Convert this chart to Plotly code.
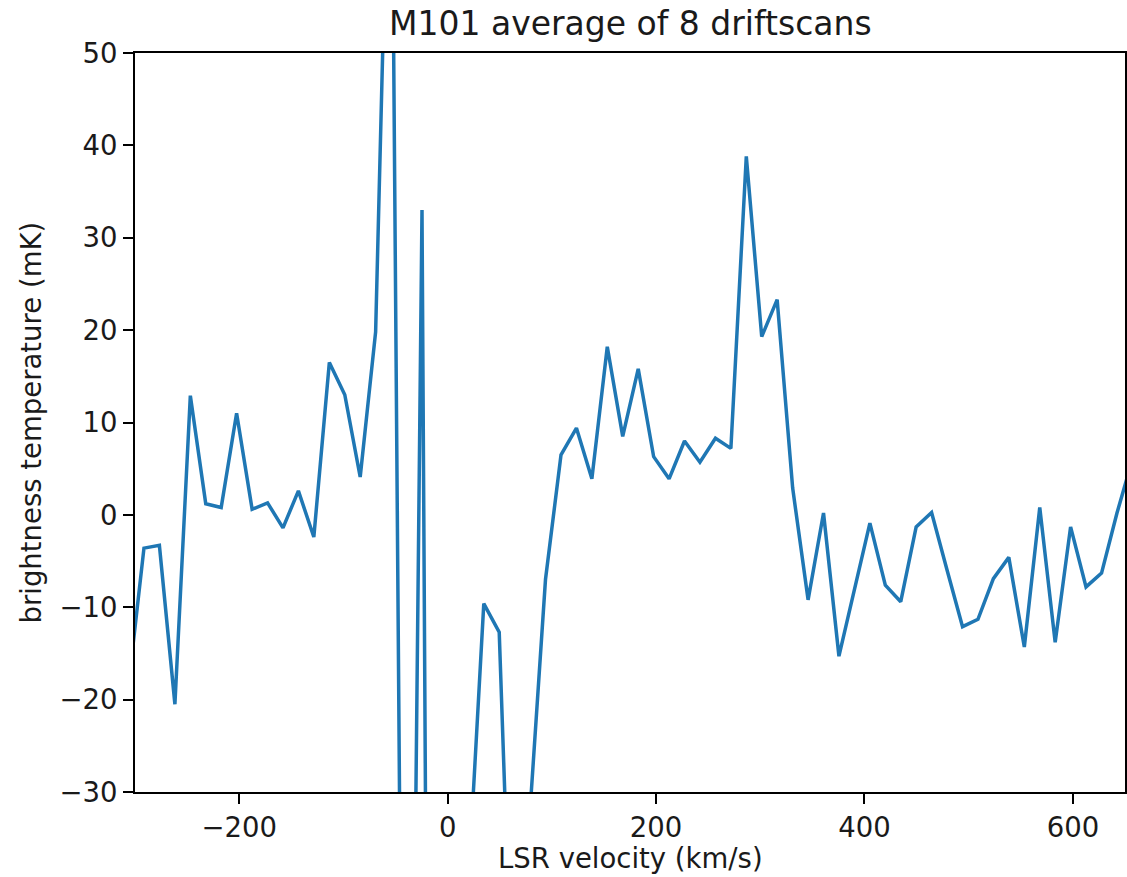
import plotly.graph_objects as go

# LSR velocity channels (km/s)
velocity = [
    -306.2, -291.4, -276.6, -261.7, -246.9, -232.1, -217.3, -202.5, -187.6, -172.8,
    -158.0, -143.2, -128.4, -113.5, -98.7, -83.9, -69.1, -54.3, -39.4, -24.6,
    -9.8, 5.0, 19.8, 34.7, 49.5, 64.3, 79.1, 93.9, 108.8, 123.6,
    138.4, 153.2, 168.0, 182.9, 197.7, 212.5, 227.3, 242.1, 257.0, 271.8,
    286.6, 301.4, 316.2, 331.1, 345.9, 360.7, 375.5, 390.3, 405.2, 420.0,
    434.8, 449.6, 464.4, 479.3, 494.1, 508.9, 523.7, 538.5, 553.4, 568.2,
    583.0, 597.8, 612.6, 627.5, 642.3, 657.1,
]

# brightness temperature (mK)
temperature = [
    -18.4, -3.6, -3.3, -20.5, 12.9, 1.2, 0.8, 11.0, 0.6, 1.3,
    -1.4, 2.6, -2.4, 16.5, 13.0, 4.1, 19.8, 86.0, -127.0, 33.0,
    -250.0, -120.0, -40.0, -9.6, -12.7, -61.0, -32.0, -7.0, 6.5, 9.4,
    3.9, 18.2, 8.5, 15.8, 6.3, 3.9, 8.0, 5.7, 8.3, 7.2,
    38.8, 19.3, 23.3, 2.9, -9.2, 0.2, -15.3, -8.0, -0.9, -7.6,
    -9.4, -1.3, 0.25, -6.0, -12.1, -11.3, -6.9, -4.6, -14.3, 0.8,
    -13.8, -1.3, -7.8, -6.3, 0.2, 6.0,
]

title_text = "M101 average of 8 driftscans"
x_label = "LSR velocity (km/s)"
y_label = "brightness temperature (mK)"
x_ticks = [-200, 0, 200, 400, 600]
y_ticks = [-30, -20, -10, 0, 10, 20, 30, 40, 50]

FONT = "DejaVu Sans"
TEXT = "#1a1a1a"

fig = go.Figure()
fig.add_trace(go.Scatter(
    x=velocity, y=temperature, mode="lines",
    line=dict(color="#1f77b4", width=3.5),
    showlegend=False, hoverinfo="skip",
))

axis_common = dict(
    showgrid=False, zeroline=False,
    showline=True, linecolor="black", linewidth=2, mirror=True,
    ticks="outside", ticklen=10, tickwidth=2, tickcolor="black",
    tickfont=dict(family=FONT, size=27.5, color=TEXT),
)

fig.update_xaxes(range=[-300, 650], tickvals=x_ticks, **axis_common)
fig.update_yaxes(range=[-30, 50], tickvals=y_ticks, **axis_common)

fig.update_layout(
    width=1127, height=877,
    margin=dict(l=135, r=0, t=53, b=85),
    plot_bgcolor="white", paper_bgcolor="white",
    font=dict(family=FONT, color=TEXT),
    annotations=[
        dict(text=title_text, xref="paper", yref="paper", x=0.5, y=1,
             xanchor="center", yanchor="bottom", yshift=8, showarrow=False,
             font=dict(family=FONT, size=33, color=TEXT)),
        dict(text=x_label, xref="paper", yref="paper", x=0.5, y=0,
             xanchor="center", yanchor="top", yshift=-48, showarrow=False,
             font=dict(family=FONT, size=27.5, color=TEXT)),
        dict(text=y_label, xref="paper", yref="paper", x=0, y=0.5,
             xanchor="center", yanchor="middle", xshift=-105, textangle=-90,
             showarrow=False,
             font=dict(family=FONT, size=27.5, color=TEXT)),
    ],
)

fig.write_html("out.html")
